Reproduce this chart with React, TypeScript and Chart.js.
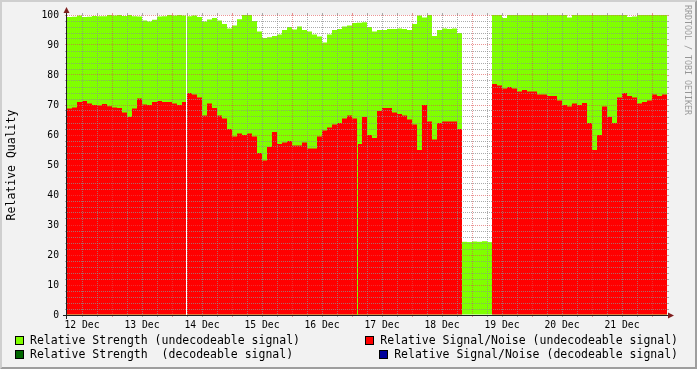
import React, { useEffect, useRef } from "react";
import { Chart, registerables } from "chart.js";

Chart.register(...registerables);

const FONT = "'DejaVu Sans Mono', 'Liberation Mono', monospace";

// time axis: hours since 12 Dec 06:00, one sample every 2 hours
const SAMPLE_HOURS = 2;
const RANGE_HOURS = 240;

const dayLabels = ["12 Dec", "13 Dec", "14 Dec", "15 Dec", "16 Dec", "17 Dec", "18 Dec", "19 Dec", "20 Dec", "21 Dec"];
const dayLabelHours = [6, 30, 54, 78, 102, 126, 150, 174, 198, 222];

const yLabelValues = [0, 10, 20, 30, 40, 50, 60, 70, 80, 90, 100];

const seriesLabels = [
  "Relative Strength (undecodeable signal)",
  "Relative Strength  (decodeable signal)",
  "Relative Signal/Noise (undecodeable signal)",
  "Relative Signal/Noise (decodeable signal)",
];

const strengthUndecodeable: (number | null)[] = [
  99.3, 99.4, 99.8, 99.3, 99.4, 99.7, 99.6, 99.6, 100, 99.8, 100, 99.7, 100, 99.6, 99.5, 98.2, 97.8, 98.4, 99.5, 99.6,
  100, 99.8, 100, 99.8, 99.6, 99.8, 99.3, 97.8, 98.5, 99, 98.2, 97, 95.5, 96.5, 98.6, 100, 100, 98, 94.5, 92.3,
  92.6, 93, 93.5, 95, 96, 95.2, 96.2, 95, 94.5, 93.5, 92.8, 90.8, 93.5, 95, 95.3, 96.2, 96.5, 97.3, 97.4, 97.6,
  96, 94.5, 95, 95, 95.3, 95.3, 95.5, 95.3, 95, 97, 99.8, 99.2, 100, 93, 95, 95.5, 95.3, 95.5, 94,
  24.4, 24.3, 24.5, 24.4, 24.6, 24.3,
  100, 100, 99, 100, 100, 100, 100, 100, 100, 100, 100, 100, 100, 100, 100,
  99.2, 100, 100, 100, 100, 100, 100, 100, 100, 100, 100, 100, 99.3, 99.5, 100, 100, 100, 100, 100, 100,
];

const snrUndecodeable: (number | null)[] = [
  68.8, 69.2, 71, 71.3, 70.5, 70, 69.8, 70.3, 69.6, 69.2, 69, 67.5, 66, 68.8, 72.2, 70.2, 70, 71, 71.3, 71,
  71, 70.5, 70, 71, 74, 73.5, 72.5, 66.5, 70.5, 69, 66.5, 65.5, 62, 59.5, 60.5, 60, 60.5, 59.5, 54, 51.5,
  56, 61, 57, 57.5, 58, 56.5, 56.5, 57.5, 55.5, 55.5, 59.5, 61.5, 62.5, 63.5, 64, 65.5, 66.5, 65.5, 57, 66,
  60, 59, 68, 69, 69, 67.5, 67, 66.5, 65.2, 63.5, 55, 70, 64.5, 58.5, 64, 64.5, 64.5, 64.5, 62,
  null, null, null, null, null, null,
  77, 76.5, 75.5, 76, 75.5, 74.5, 75, 74.5, 74.5, 73.5, 73.5, 73, 73, 71.5, 70,
  69.5, 70.5, 70, 70.7, 64, 55, 60, 69.5, 66, 64, 72.5, 74, 73, 72.5, 70.5, 71, 71.5, 73.5, 73, 73.5,
];

const strengthDecodeable: (number | null)[] = [];
const snrDecodeable: (number | null)[] = [];

// short outages (hours): both series missing / only S/N missing
const gapHours = [47.6];
const snrGapHours = [116.2];

const COLORS = {
  strengthUndecodeable: "#80FF00",
  strengthDecodeable: "#006600",
  snrUndecodeable: "#FF0000",
  snrDecodeable: "#000099",
  grid: "rgba(143,143,143,0.75)",
  mgrid: "rgba(222,79,79,0.6)",
  axis: "#1F1F1F",
  arrow: "#801F1F",
};

const toBars = (vals: (number | null)[]) =>
  vals.map((v, i) => ({ x: (i + 0.5) * SAMPLE_HOURS, y: v }));

const xGridHours: number[] = [];
for (let h = 6; h < RANGE_HOURS; h += 6) xGridHours.push(h);
const yGridValues: number[] = [];
for (let v = 0; v <= 100; v += 2) yGridValues.push(v);

const isMajorX = (h: number) => h % 24 === 18;
const isMajorY = (v: number) => v % 10 === 0;

const framePlugin = {
  id: "rrdFrame",
  beforeDraw(chart: any) {
    const { ctx, width: W, height: H, chartArea: a } = chart;
    ctx.save();
    ctx.fillStyle = "#F2F2F2";
    ctx.fillRect(0, 0, W, H);
    ctx.fillStyle = "#CFCFCF";
    ctx.beginPath();
    ctx.moveTo(0, H); ctx.lineTo(2, H - 2); ctx.lineTo(2, 2); ctx.lineTo(W - 2, 2); ctx.lineTo(W, 0); ctx.lineTo(0, 0);
    ctx.closePath(); ctx.fill();
    ctx.fillStyle = "#9E9E9E";
    ctx.beginPath();
    ctx.moveTo(2, H - 2); ctx.lineTo(W - 2, H - 2); ctx.lineTo(W - 2, 2); ctx.lineTo(W, 0); ctx.lineTo(W, H); ctx.lineTo(0, H);
    ctx.closePath(); ctx.fill();
    ctx.fillStyle = "#FFFFFF";
    ctx.fillRect(a.left, a.top, a.right - a.left, a.bottom - a.top);
    ctx.restore();
  },
};

const gapPlugin = {
  id: "rrdGaps",
  afterDatasetsDraw(chart: any) {
    const { ctx, chartArea: a, scales } = chart;
    const x = scales.x, y = scales.y;
    ctx.save();
    ctx.fillStyle = "#FFFFFF";
    for (const h of gapHours) {
      const px = Math.floor(x.getPixelForValue(h));
      ctx.fillRect(px, a.top, 1, a.bottom - a.top);
    }
    ctx.fillStyle = COLORS.strengthUndecodeable;
    for (const h of snrGapHours) {
      const v = strengthUndecodeable[Math.floor(h / SAMPLE_HOURS)] ?? 0;
      const px = Math.floor(x.getPixelForValue(h));
      const top = y.getPixelForValue(v);
      ctx.fillRect(px, top, 1, y.getPixelForValue(0) - top);
    }
    ctx.restore();
  },
};

const axisPlugin = {
  id: "rrdAxis",
  afterDraw(chart: any) {
    const { ctx, chartArea: a, scales } = chart;
    ctx.save();
    ctx.lineWidth = 1;
    // grid extensions on right and top
    for (const v of yGridValues) {
      const py = Math.round(scales.y.getPixelForValue(v)) + 0.5;
      ctx.strokeStyle = isMajorY(v) ? COLORS.mgrid : COLORS.grid;
      ctx.beginPath(); ctx.moveTo(a.right, py); ctx.lineTo(a.right + 2, py); ctx.stroke();
    }
    for (const h of xGridHours) {
      const px = Math.round(scales.x.getPixelForValue(h)) + 0.5;
      ctx.strokeStyle = isMajorX(h) ? COLORS.mgrid : COLORS.grid;
      ctx.beginPath(); ctx.moveTo(px, a.top - 2); ctx.lineTo(px, a.top); ctx.stroke();
    }
    ctx.strokeStyle = COLORS.axis;
    ctx.beginPath();
    ctx.moveTo(a.left - 4, a.bottom + 0.5); ctx.lineTo(a.right + 4, a.bottom + 0.5);
    ctx.moveTo(a.left - 0.5, a.bottom + 4); ctx.lineTo(a.left - 0.5, a.top - 4);
    ctx.stroke();
    ctx.fillStyle = COLORS.arrow;
    ctx.beginPath();
    ctx.moveTo(a.right + 1, a.bottom + 0.5 - 3); ctx.lineTo(a.right + 1, a.bottom + 0.5 + 3); ctx.lineTo(a.right + 7, a.bottom + 0.5);
    ctx.closePath(); ctx.fill();
    ctx.beginPath();
    ctx.moveTo(a.left - 0.5 - 3, a.top - 2); ctx.lineTo(a.left - 0.5 + 3, a.top - 2); ctx.lineTo(a.left - 0.5, a.top - 8);
    ctx.closePath(); ctx.fill();

    // watermark
    ctx.save();
    ctx.translate(687, 5);
    ctx.rotate(Math.PI / 2);
    ctx.font = `8.3px ${FONT}`;
    ctx.fillStyle = "rgba(0,0,0,0.38)";
    ctx.textBaseline = "middle";
    ctx.textAlign = "left";
    ctx.fillText("RRDTOOL / TOBI OETIKER", 0, 0);
    ctx.restore();
    ctx.restore();
  },
};

const legendPlugin = {
  id: "rrdLegend",
  afterDraw(chart: any) {
    const { ctx } = chart;
    const ds = chart.data.datasets;
    const rows = [[0, 2], [1, 3]];
    const baselines = [344, 358];
    ctx.save();
    ctx.font = `11.5px ${FONT}`;
    ctx.textBaseline = "alphabetic";
    ctx.textAlign = "left";
    rows.forEach((row, r) => {
      row.forEach((di, c) => {
        const d = ds[di];
        const text = d.label as string;
        const w = ctx.measureText(text).width;
        const tx = c === 0 ? 30 : 678 - w;
        const bx = Math.round(tx - 15);
        const by = baselines[r] - 8;
        ctx.fillStyle = d.backgroundColor;
        ctx.fillRect(bx, by, 9, 9);
        ctx.strokeStyle = "#000";
        ctx.lineWidth = 1;
        ctx.strokeRect(bx + 0.5, by + 0.5, 8, 8);
        ctx.fillStyle = "#000";
        ctx.fillText(text, tx, baselines[r]);
      });
    });
    ctx.restore();
  },
};

export default function App() {
  const ref = useRef<HTMLCanvasElement | null>(null);

  useEffect(() => {
    document.body.style.margin = "0";
    const canvas = ref.current;
    if (!canvas) return;
    const barCommon = {
      type: "bar" as const,
      grouped: false,
      barPercentage: 1,
      categoryPercentage: 1,
      borderWidth: 0,
      inflateAmount: 0,
    };
    const chart = new Chart(canvas, {
      type: "bar",
      data: {
        datasets: [
          { ...barCommon, label: seriesLabels[0], data: toBars(strengthUndecodeable), backgroundColor: COLORS.strengthUndecodeable, order: 4 },
          { ...barCommon, label: seriesLabels[1], data: toBars(strengthDecodeable), backgroundColor: COLORS.strengthDecodeable, order: 3 },
          { ...barCommon, label: seriesLabels[2], data: toBars(snrUndecodeable), backgroundColor: COLORS.snrUndecodeable, order: 2 },
          { ...barCommon, label: seriesLabels[3], data: toBars(snrDecodeable), backgroundColor: COLORS.snrDecodeable, order: 1 },
        ] as any,
      },
      options: {
        animation: false,
        responsive: false,
        devicePixelRatio: 1,
        layout: { padding: { left: 0, top: 15, right: 30, bottom: 0 } },
        plugins: {
          legend: { display: false },
          tooltip: { enabled: false },
          title: { display: false },
        },
        scales: {
          x: {
            type: "linear",
            min: 0,
            max: RANGE_HOURS,
            offset: false,
            afterBuildTicks: (s: any) => {
              s.ticks = xGridHours.map((v) => ({ value: v }));
            },
            afterFit: (s: any) => {
              s.height = 54;
            },
            ticks: {
              autoSkip: false,
              maxRotation: 0,
              minRotation: 0,
              padding: 3,
              color: "#000",
              font: { family: FONT, size: 9.7 },
              callback: (value: any) => {
                const idx = dayLabelHours.indexOf(Number(value));
                return idx >= 0 ? dayLabels[idx] : "";
              },
            },
            grid: {
              display: true,
              drawOnChartArea: true,
              drawTicks: true,
              tickLength: 2,
              z: 1,
              lineWidth: 1,
              offset: false,
              color: (c: any) => (isMajorX(c.tick.value) ? COLORS.mgrid : COLORS.grid),
              tickColor: (c: any) => (isMajorX(c.tick.value) ? COLORS.mgrid : COLORS.grid),
            },
            border: { display: false, dash: [1, 1] },
          },
          y: {
            type: "linear",
            min: 0,
            max: 100,
            afterBuildTicks: (s: any) => {
              s.ticks = yGridValues.map((v) => ({ value: v }));
            },
            afterFit: (s: any) => {
              s.width = 67;
            },
            title: {
              display: true,
              text: "Relative Quality",
              color: "#000",
              font: { family: FONT, size: 11.5 },
              padding: { top: 5, bottom: 0 },
            },
            ticks: {
              autoSkip: false,
              padding: 6,
              color: "#000",
              font: { family: FONT, size: 9.7 },
              callback: (value: any) => (yLabelValues.includes(Number(value)) ? String(value) : ""),
            },
            grid: {
              display: true,
              drawOnChartArea: true,
              drawTicks: true,
              tickLength: 2,
              z: 1,
              lineWidth: 1,
              color: (c: any) => (isMajorY(c.tick.value) ? COLORS.mgrid : COLORS.grid),
              tickColor: (c: any) => (isMajorY(c.tick.value) ? COLORS.mgrid : COLORS.grid),
            },
            border: { display: false, dash: [1, 1] },
          },
        },
      } as any,
      plugins: [framePlugin, gapPlugin, axisPlugin, legendPlugin],
    });
    return () => chart.destroy();
  }, []);

  return (
    <canvas
      ref={ref}
      width={697}
      height={369}
      style={{ display: "block", width: 697, height: 369 }}
    />
  );
}
